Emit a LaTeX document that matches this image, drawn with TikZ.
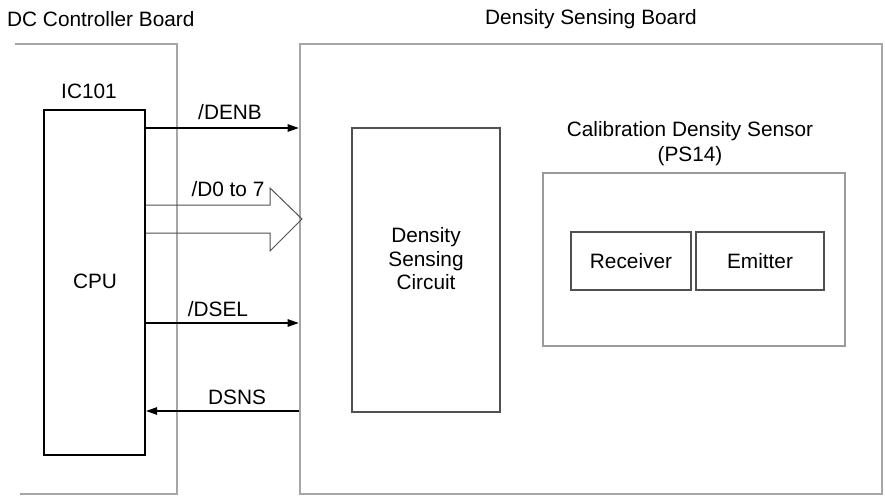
\documentclass[tikz,border=0pt]{standalone}
\usepackage{fontspec}
\setmainfont{Liberation Sans}
\usetikzlibrary{arrows.meta}
\definecolor{boardgray}{HTML}{A6A6A6}
\definecolor{sensgray}{HTML}{9A9A9A}
\definecolor{boxdark}{HTML}{505050}
\begin{document}
\begin{tikzpicture}[x=1pt,y=-1pt,
  every node/.style={font=\fontsize{20.8}{23.5}\selectfont, inner sep=0pt},
  board/.style={draw=boardgray, line width=2.6pt},
  icbox/.style={draw=black, line width=2.2pt, minimum width=101pt, minimum height=345pt},
  circbox/.style={draw=boxdark, line width=1.6pt, minimum width=148pt, minimum height=284pt},
  sensbox/.style={draw=sensgray, line width=2pt, minimum width=302pt, minimum height=173pt},
  elbox/.style={draw=boxdark, line width=1.2pt, minimum height=58pt},
  sig/.style={draw=black, line width=1.2pt, -{Triangle[length=11pt,width=7.5pt]}},
  bus/.style={draw=boxdark, line width=1pt, line join=miter},
  lbl/.style={anchor=center}]
\useasboundingbox (0,0) rectangle (885,496);
% boards
\node[lbl, anchor=west] (dctitle) at (7,19) {DC Controller Board};
\coordinate (dc1) at (15,44);
\coordinate (dc2) at (177,44);
\coordinate (dc3) at (177,494);
\coordinate (dc4) at (20,494);
\draw[board] (dc1) -- (dc2) -- (dc3) -- (dc4);
\node[board, minimum width=582pt, minimum height=450pt] (dsb) at (591,269) {};
\node[lbl] (dsbtitle) at (591,19) {Density Sensing Board};
% CPU
\node[lbl] (ictitle) at (89,91) {IC101};
\node[icbox] (cpu) at (94.5,282.5) {};
\node[lbl] (cputext) at (95,281) {CPU};
% density sensing circuit
\node[circbox] (circ) at (426,270) {};
\node[lbl, align=center] (circtext) at (426,259) {Density\\Sensing\\Circuit};
% sensor
\node[lbl] (senstitle) at (690,131) {Calibration Density Sensor};
\node[lbl] (senstitle2) at (690,156) {(PS14)};
\node[sensbox] (sens) at (694,259.5) {};
\node[elbox, minimum width=120pt] (rcv) at (631,261) {Receiver};
\node[elbox, minimum width=128pt] (emt) at (760,261) {Emitter};
% signals
\coordinate (yDENB) at (0,128);
\coordinate (yDSEL) at (0,323);
\coordinate (yDSNS) at (0,411);
\draw[sig] (cpu.east |- yDENB) -- (dsb.west |- yDENB);
\node[lbl] (ldenb) at (230,112) {/DENB};
\draw[sig] (cpu.east |- yDSEL) -- (dsb.west |- yDSEL);
\node[lbl] (ldsel) at (218,309) {/DSEL};
\draw[sig] (dsb.west |- yDSNS) -- (cpu.east |- yDSNS);
\node[lbl] (ldsns) at (237,397) {DSNS};
% bus arrow
\coordinate (b0) at (146,205);
\coordinate (b1) at (270,205);
\coordinate (b2) at (270,188);
\coordinate (btip) at (302,219);
\coordinate (b3) at (270,251);
\coordinate (b4) at (270,233);
\coordinate (b5) at (146,233);
\draw[bus] (b5) -- (b4) -- (b3) -- (btip) -- (b2) -- (b1) -- (b0);
\node[lbl] (ldbus) at (228,189) {/D0 to 7};
\end{tikzpicture}
\end{document}
